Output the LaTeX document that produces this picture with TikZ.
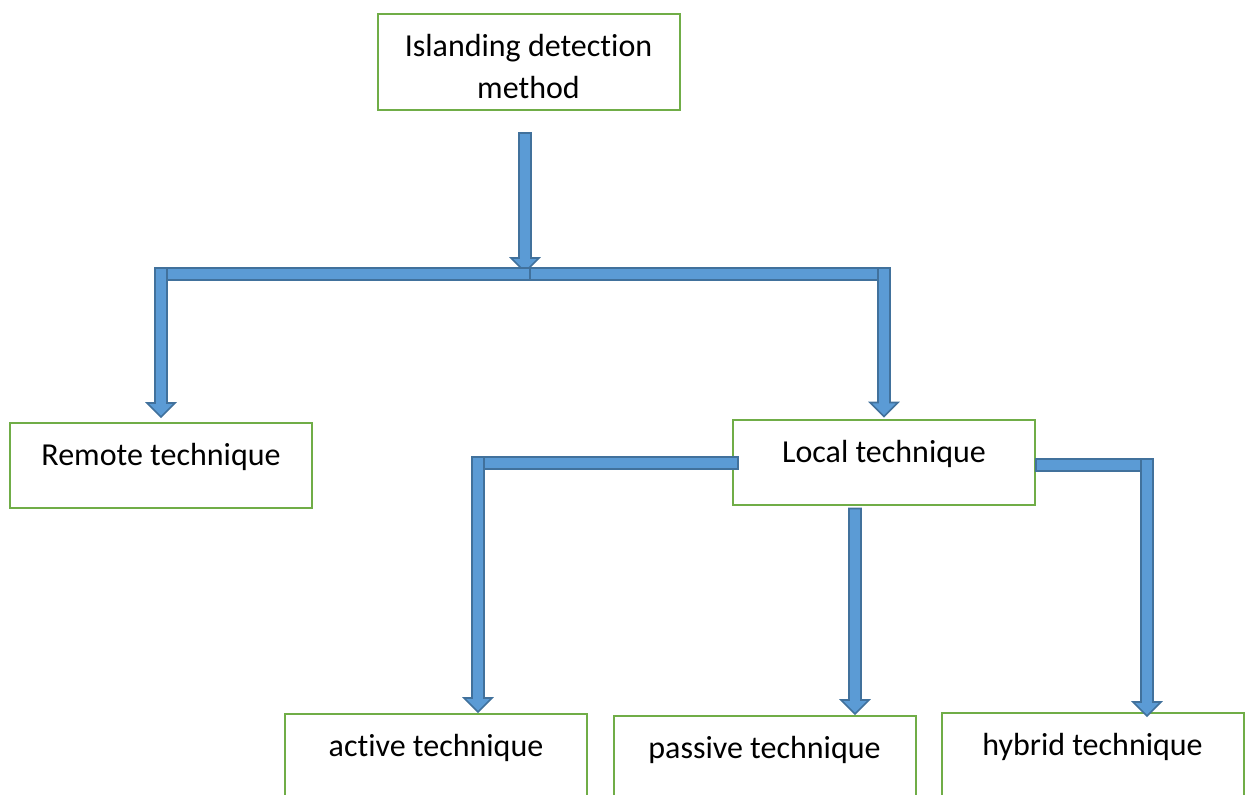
\documentclass[tikz,border=0pt]{standalone}
\usepackage{fontspec}
\setmainfont[Ligatures=NoCommon]{Carlito}
\usetikzlibrary{calc}
\definecolor{arrowfill}{HTML}{5B9BD5}
\definecolor{arrowedge}{HTML}{41719C}
\definecolor{boxgreen}{HTML}{70AD47}
\def\blockdown(#1)(#2){\draw[blockarrow] ($(#1)+(-3pt,0)$) -- ($(#2)+(-3pt,7pt)$) -- ($(#2)+(-7pt,7pt)$) -- (#2) -- ($(#2)+(7pt,7pt)$) -- ($(#2)+(3pt,7pt)$) -- ($(#1)+(3pt,0)$) -- cycle;}
\def\blockbar(#1)(#2){\draw[blockarrow] (#1) rectangle ($(#2)+(0,-6pt)$);}

\begin{document}
\begin{tikzpicture}[x=0.5pt,y=-0.5pt,
	greenbox/.style={draw=boxgreen, line width=1pt, fill=white, minimum width=151pt, minimum height=42.5pt, inner sep=0pt, font=\fontsize{16}{21}\selectfont},
	techbox/.style={greenbox, text height=11pt, text depth=11pt},
	blockarrow/.style={draw=arrowedge, fill=arrowfill, line width=0.8pt, line join=miter}]
			%%%%% START %%%%%
			
			\useasboundingbox (0,0) rectangle (1251,794);
			
			\node[greenbox, align=center, minimum height=48pt, text height=36pt, text depth=0pt] (method) at (528.5,62) {Islanding detection\\method};
			
			\node[techbox] (remote) at (161,465.5) {Remote technique};
			\node[techbox] (local) at (884,462) {Local technique};
			
			\node[techbox] (active) at (436,756.5) {active technique};
			\node[techbox] (passive) at (764.5,758.5) {passive technique};
			\node[techbox] (hybrid) at (1092.5,755.5) {hybrid technique};
			
			\coordinate (stemtop) at ($(method.south)+(-1.75pt,-11pt)$);
			\coordinate (split) at (530,268);
			\coordinate (stemtip) at ($(stemtop |- split)+(0,-2pt)$);
			\coordinate (leftturn) at (remote |- split);
			\coordinate (rightturn) at (local |- split);
			\coordinate (remotetip) at ($(remote.north)+(0,2.5pt)$);
			\coordinate (localtip) at ($(local.north)+(0,1pt)$);
			
			\coordinate (localwest) at ($(local.west)+(3pt,2.5pt)$);
			\coordinate (activetip) at ($(active.north)+(21pt,0.5pt)$);
			\coordinate (activeturn) at (localwest -| activetip);
			
			\coordinate (localsouth) at ($(local.south)+(-14.5pt,-1.5pt)$);
			\coordinate (passivetip) at ($(localsouth |- passive.north)+(0,0.5pt)$);
			
			\coordinate (localeast) at ($(local.east)+(0,1.5pt)$);
			\coordinate (hybridtip) at ($(hybrid.north)+(27.25pt,-2pt)$);
			\coordinate (hybridturn) at (localeast -| hybridtip);
			
			\blockdown(stemtop)(stemtip)
			\blockbar(split)(leftturn)
			\blockbar(split)(rightturn)
			\blockdown(leftturn)(remotetip)
			\blockdown(rightturn)(localtip)
			
			\blockbar(localwest)(activeturn)
			\blockdown(activeturn)(activetip)
			\blockdown(localsouth)(passivetip)
			\blockbar(localeast)(hybridturn)
			\blockdown(hybridturn)(hybridtip)
			
			%%%%% END %%%%%
\end{tikzpicture}
\end{document}
